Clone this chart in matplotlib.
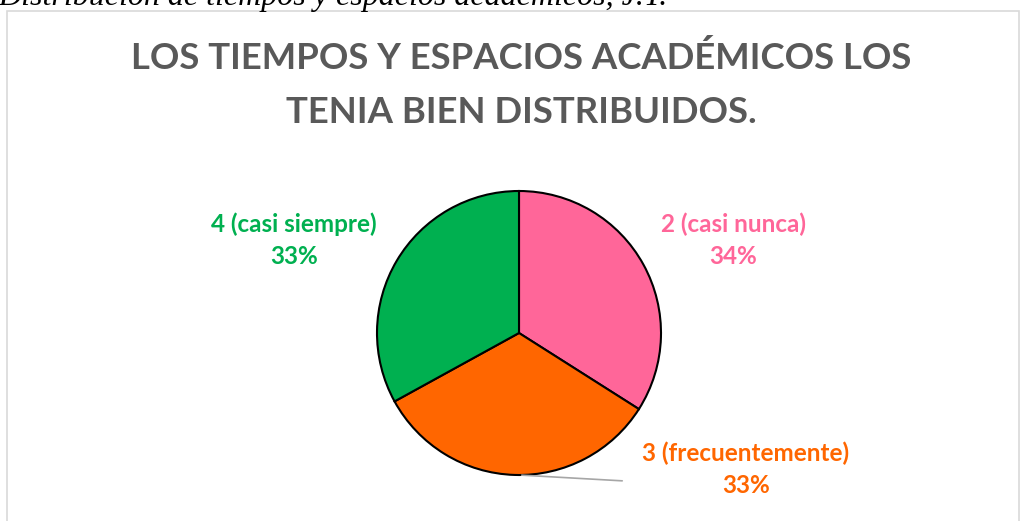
import matplotlib.pyplot as plt
from matplotlib.patches import Rectangle

# data
labels = ['2 (casi nunca)', '3 (frecuentemente)', '4 (casi siempre)']
values = [34, 33, 33]
colors = ['#FF6699', '#FF6600', '#00B050']
title = 'LOS TIEMPOS Y ESPACIOS ACADÉMICOS LOS\nTENIA BIEN DISTRIBUIDOS.'
caption = 'Distribución de tiempos y espacios académicos, J.T.'

W, H = 1021, 521
fig = plt.figure(figsize=(W / 100, H / 100), dpi=100)
plt.rcParams['font.family'] = ['Lato', 'DejaVu Sans']

# chart border
fig.patches.append(Rectangle((7 / W, -0.01), 1012 / W, 1 - 11 / H + 0.01,
                             transform=fig.transFigure, fill=False,
                             edgecolor='#D9D9D9', linewidth=1.2))

# cut-off caption at the top
fig.text(-2 / W, 1 - 5 / H, caption, ha='left', va='baseline', fontsize=23,
         style='italic', family='Liberation Serif', color='black')

fig.text(521 / W, 1 - 85 / H, title, ha='center', va='center', fontsize=26.3,
         fontweight='bold', color='#595959', linespacing=1.8)

# pie
cx, cy, r = 519, 333, 142
ax = fig.add_axes([(cx - r) / W, 1 - (cy + r) / H, 2 * r / W, 2 * r / H])
ax.pie(values, colors=colors, startangle=90, counterclock=False,
       wedgeprops=dict(edgecolor='black', linewidth=1.5), radius=1)
ax.set_xlim(-1, 1)
ax.set_ylim(-1, 1)
ax.set_aspect('equal')
ax.axis('off')

# labels
label_pos = [(733, 240), (746, 469), (294, 240)]
for lab, v, c, (x, y) in zip(labels, values, colors, label_pos):
    fig.text(x / W, 1 - y / H, f'{lab}\n{v}%', ha='center', va='center',
             fontsize=17.5, fontweight='bold', color=c, linespacing=1.45)

# leader line for the bottom label
ax.annotate('', xy=(0.0, -1.0), xytext=(625 / W, 1 - 481 / H),
            textcoords='figure fraction',
            arrowprops=dict(arrowstyle='-', color='#A6A6A6', linewidth=1.2))

fig.savefig('out.png', dpi=100)
